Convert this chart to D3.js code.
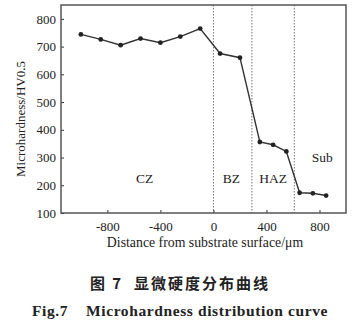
<!DOCTYPE html>
<html><head><meta charset="utf-8">
<script src="https://cdn.jsdelivr.net/npm/d3@7"></script>
<style>body{margin:0;background:#fff;}svg{display:block;}
.serif{font-family:"Liberation Serif","DejaVu Serif",serif;}
.cjk{font-family:"Noto Sans CJK SC",sans-serif;}
</style>
</head><body>
<svg id="c" width="352" height="325"></svg>
<script>
const distances = [-1000,-850,-700,-550,-400,-250,-100,50,200,350,450,550,650,750,850];
const hardness  = [744,726,705,729,714,736,765,675,660,356,346,322,173,171,163];
const xTicks = [-800,-400,0,400,800];
const yTicks = [100,200,300,400,500,600,700,800];
const zoneBounds = [0,290,610];
const zoneLabels = ["CZ","BZ","HAZ","Sub"];
const zoneLabelPos = [[-520,220],[135,220],[450,220],[820,295]];

const svg = d3.select("#c");
const L=61,R=346,T=5,B=213;
const x = d3.scaleLinear().domain([-1150,1000]).range([L,R]);
const y = d3.scaleLinear().domain([100,850]).range([B,T]);
const ink = "#333";

// zone dividers
svg.selectAll("line.z").data(zoneBounds).enter().append("line")
  .attr("x1",d=>x(d)).attr("x2",d=>x(d)).attr("y1",T).attr("y2",B)
  .attr("stroke","#777").attr("stroke-width",1).attr("stroke-dasharray","1.5,1.5");

// axes
const xa = svg.append("g").attr("transform",`translate(0,${B})`)
  .call(d3.axisBottom(x).tickValues(xTicks).tickSize(-3).tickPadding(9).tickFormat(d3.format("d")));
const ya = svg.append("g").attr("transform",`translate(${L},0)`)
  .call(d3.axisLeft(y).tickValues(yTicks).tickSize(-3).tickPadding(5).tickFormat(d3.format("d")));
[xa,ya].forEach(g=>{
  g.attr("font-family",null);
  g.select(".domain").remove();
  g.selectAll("line").attr("stroke",ink).attr("stroke-width",1);
  g.selectAll("text").attr("class","serif").attr("font-size",13).attr("fill","#222");
});
xa.selectAll("text").text(d=>d<0?"-"+Math.abs(d):d);

// frame
svg.append("rect").attr("x",L).attr("y",T).attr("width",R-L).attr("height",B-T)
  .attr("fill","none").attr("stroke","#555").attr("stroke-width",1.5);

// line + markers
const pts = distances.map((d,i)=>[d,hardness[i]]);
svg.append("path").datum(pts)
  .attr("d",d3.line().x(d=>x(d[0])).y(d=>y(d[1])))
  .attr("fill","none").attr("stroke",ink).attr("stroke-width",1.4);
svg.selectAll("circle").data(pts).enter().append("circle")
  .attr("cx",d=>x(d[0])).attr("cy",d=>y(d[1])).attr("r",2.4).attr("fill","#222");

// zone labels
svg.selectAll("text.zl").data(zoneLabels).enter().append("text")
  .attr("class","serif")
  .attr("x",(d,i)=>x(zoneLabelPos[i][0])).attr("y",(d,i)=>y(zoneLabelPos[i][1]))
  .attr("text-anchor","middle").attr("dominant-baseline","middle")
  .attr("font-size",13.5).attr("fill","#222").text(d=>d);

// axis titles
svg.append("text").attr("class","serif").attr("x",205).attr("y",247).attr("text-anchor","middle")
  .attr("font-size",13.8).attr("fill","#222")
  .text("Distance from substrate surface/μm");
svg.append("text").attr("class","serif").attr("transform","translate(25,119) rotate(-90)").attr("text-anchor","middle")
  .attr("font-size",13).attr("fill","#222")
  .text("Microhardness/HV0.5");

// captions
svg.append("text").attr("class","cjk").attr("x",180).attr("y",289).attr("text-anchor","middle")
  .attr("font-weight","bold").attr("font-size",15).attr("letter-spacing",2).attr("fill","#222")
  .attr("xml:space","preserve").text("图 7  显微硬度分布曲线");
svg.append("text").attr("class","serif").attr("x",180).attr("y",316).attr("text-anchor","middle")
  .attr("font-weight","bold").attr("font-size",15.5).attr("letter-spacing",0.6).attr("fill","#222")
  .attr("xml:space","preserve").text("Fig.7    Microhardness distribution curve");
</script>
</body></html>
